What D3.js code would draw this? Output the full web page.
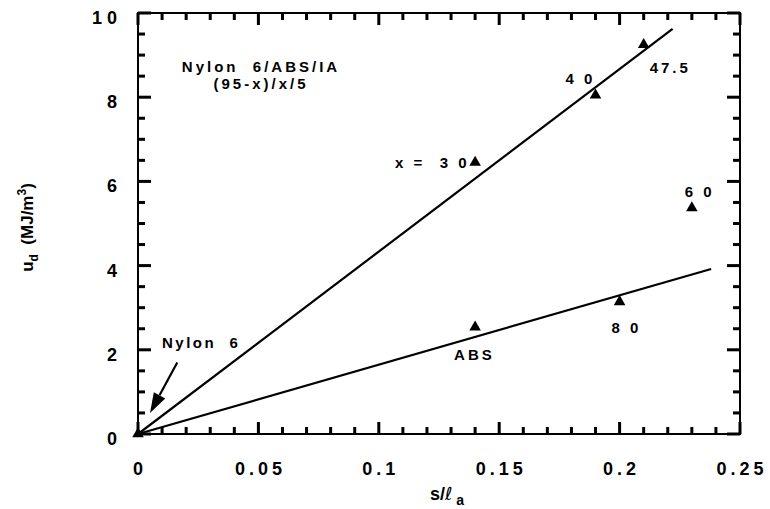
<!DOCTYPE html>
<html>
<head>
<meta charset="utf-8">
<script src="https://cdn.jsdelivr.net/npm/d3@7/dist/d3.min.js"></script>
<style>
  html, body { margin: 0; padding: 0; background: #fff; }
  svg { display: block; }
  text { font-family: "Liberation Sans", Arial, Helvetica, sans-serif; font-weight: bold; fill: #000; }
</style>
</head>
<body>
<svg id="chart" width="770" height="509"></svg>
<script>
// Measured deformation energy u_d versus s/ℓa for Nylon 6/ABS/IA blends
const sValues   = [0, 0.14, 0.19, 0.21, 0.23, 0.14, 0.20];
const uValues   = [0, 6.45, 8.05, 9.25, 5.37, 2.54, 3.14];
const pointTags = ["", "x =  3 0", "4 0", "47.5", "6 0", "ABS", "8 0"];

// Straight fits through the origin: [s, u] of each line end
const fitUpper = [[0, 0], [0.222, 9.62]];
const fitLower = [[0, 0], [0.238, 3.92]];

// Axes
const xMajorTicks  = [0, 0.05, 0.1, 0.15, 0.2, 0.25];
const xTickLabels  = ["0", "0.05", "0.1", "0.15", "0.2", "0.25"];
const yMajorTicks  = [0, 2, 4, 6, 8, 10];
const yTickLabels  = ["0", "2", "4", "6", "8", "1 0"];
const xMinorTicks  = [0.01, 0.02, 0.03, 0.04, 0.06, 0.07, 0.08, 0.09, 0.11, 0.12, 0.13, 0.14,
                      0.16, 0.17, 0.18, 0.19, 0.21, 0.22, 0.23, 0.24];
const yMinorTicks  = [0.5, 1, 1.5, 2.5, 3, 3.5, 4.5, 5, 5.5, 6.5, 7, 7.5, 8.5, 9, 9.5];

// Nylon 6 arrow, tail and head in data units
const arrowFrom = [0.0163, 1.70];
const arrowTo   = [0.0050, 0.50];

const svg = d3.select("#chart");
const x = d3.scaleLinear().domain([0, 0.25]).range([138, 740]);
const y = d3.scaleLinear().domain([0, 10]).range([434, 13]);
const X0 = x(0), X1 = x(0.25), Y0 = y(0), Y1 = y(10);

// frame
svg.append("rect")
  .attr("x", X0).attr("y", Y1)
  .attr("width", X1 - X0).attr("height", Y0 - Y1)
  .attr("fill", "none").attr("stroke", "#000").attr("stroke-width", 2);

// tick labels
svg.append("g").selectAll("text")
  .data(xMajorTicks)
  .join("text")
  .attr("x", d => x(d) + 2)
  .attr("y", Y0 + 41)
  .attr("text-anchor", "middle")
  .attr("font-size", 18)
  .attr("letter-spacing", "4px")
  .text((d, i) => xTickLabels[i]);
svg.append("g").selectAll("text")
  .data(yMajorTicks)
  .join("text")
  .attr("x", X0 - 21)
  .attr("y", d => y(d) + 11)
  .attr("text-anchor", "end")
  .attr("font-size", 18)
  .style("white-space", "pre")
  .text((d, i) => yTickLabels[i]);

// fitted lines
const line = d3.line().x(d => x(d[0])).y(d => y(d[1]));
[fitUpper, fitLower].forEach(pts => {
  svg.append("path").attr("d", line(pts))
    .attr("fill", "none").attr("stroke", "#000").attr("stroke-width", 2.2);
});

// data triangles
const tri = d3.symbol().type(d3.symbolTriangle).size(58);
svg.append("g").selectAll("path")
  .data(sValues.map((s, i) => [s, uValues[i]]))
  .join("path")
  .attr("transform", d => `translate(${x(d[0])},${y(d[1])})`)
  .attr("d", tri)
  .attr("fill", "#000");

// point tags: offset (px) from each point to the start of its text baseline
const tagOffsets = [[0, 0], [-80, 6], [-30, -11], [6, 28], [-7, -11], [-21, 33], [-8, 31]];
svg.append("g").selectAll("text")
  .data(pointTags.map((t, i) => ({ t, s: sValues[i], u: uValues[i], o: tagOffsets[i] })).filter(d => d.t))
  .join("text")
  .attr("x", d => x(d.s) + d.o[0])
  .attr("y", d => y(d.u) + d.o[1])
  .attr("font-size", 15)
  .attr("letter-spacing", "3px")
  .style("white-space", "pre")
  .text(d => d.t);

// blend label
const blend = svg.append("text")
  .attr("font-size", 15).attr("letter-spacing", "3px")
  .attr("text-anchor", "middle").style("white-space", "pre");
blend.append("tspan").attr("x", 261).attr("y", 72).text("Nylon  6/ABS/IA");
blend.append("tspan").attr("x", 261).attr("y", 89).text("(95-x)/x/5");

// Nylon 6 arrow
svg.append("text")
  .attr("x", 162).attr("y", 348)
  .attr("font-size", 15).attr("letter-spacing", "2.5px")
  .style("white-space", "pre")
  .text("Nylon  6");
{
  const x0 = x(arrowFrom[0]), y0 = y(arrowFrom[1]);
  const x1 = x(arrowTo[0]), y1 = y(arrowTo[1]);
  const ang = Math.atan2(y1 - y0, x1 - x0);
  const headLen = 20, headHalf = 6.5;
  const bx = x1 - headLen * Math.cos(ang), by = y1 - headLen * Math.sin(ang);
  const px = -Math.sin(ang) * headHalf, py = Math.cos(ang) * headHalf;
  svg.append("path")
    .attr("d", `M${x0},${y0}L${bx},${by}`)
    .attr("fill", "none").attr("stroke", "#000").attr("stroke-width", 2.2);
  svg.append("path")
    .attr("d", `M${x1},${y1}L${bx + px},${by + py}L${bx - px},${by - py}Z`)
    .attr("fill", "#000");
}

// axis titles
const yTitle = svg.append("text")
  .attr("transform", `translate(33,${(Y0 + Y1) / 2 + 4}) rotate(-90)`)
  .attr("text-anchor", "middle")
  .attr("font-size", 17)
  .style("white-space", "pre");
yTitle.append("tspan").text("u");
yTitle.append("tspan").attr("font-size", 12).attr("dy", 5).text("d");
yTitle.append("tspan").attr("dy", -5).text("  (MJ/m");
yTitle.append("tspan").attr("font-size", 12).attr("dy", -7).text("3");
yTitle.append("tspan").attr("dy", 7).text(")");

const xTitle = svg.append("text")
  .attr("x", (X0 + X1) / 2 + 8).attr("y", 500)
  .attr("text-anchor", "middle")
  .attr("font-size", 18)
  .style("white-space", "pre");
xTitle.append("tspan").text("s/");
xTitle.append("tspan").attr("font-family", "DejaVu Sans, sans-serif").attr("font-style", "italic").attr("font-weight", "normal").text("ℓ");
xTitle.append("tspan").attr("font-size", 14).attr("dy", 5).text(" a");

// inward ticks on all four sides (majors longer), drawn on top of everything
const xTicks = xMajorTicks.map(v => ({ v, len: 12 })).concat(xMinorTicks.map(v => ({ v, len: 7 })));
const yTicks = yMajorTicks.map(v => ({ v, len: 13 })).concat(yMinorTicks.map(v => ({ v, len: 7 })));
const tickG = svg.append("g").attr("fill", "#000");
tickG.selectAll("rect.xb").data(xTicks).join("rect").attr("class", "xb")
  .attr("x", d => x(d.v) - 1.5).attr("y", d => Y0 - d.len).attr("width", 3).attr("height", d => d.len);
tickG.selectAll("rect.xt").data(xTicks).join("rect").attr("class", "xt")
  .attr("x", d => x(d.v) - 1.5).attr("y", Y1).attr("width", 3).attr("height", d => d.len);
tickG.selectAll("rect.yl").data(yTicks).join("rect").attr("class", "yl")
  .attr("x", X0).attr("y", d => y(d.v) - 1.5).attr("width", d => d.len).attr("height", 3);
tickG.selectAll("rect.yr").data(yTicks).join("rect").attr("class", "yr")
  .attr("x", d => X1 - d.len).attr("y", d => y(d.v) - 1.5).attr("width", d => d.len).attr("height", 3);
</script>
</body>
</html>
